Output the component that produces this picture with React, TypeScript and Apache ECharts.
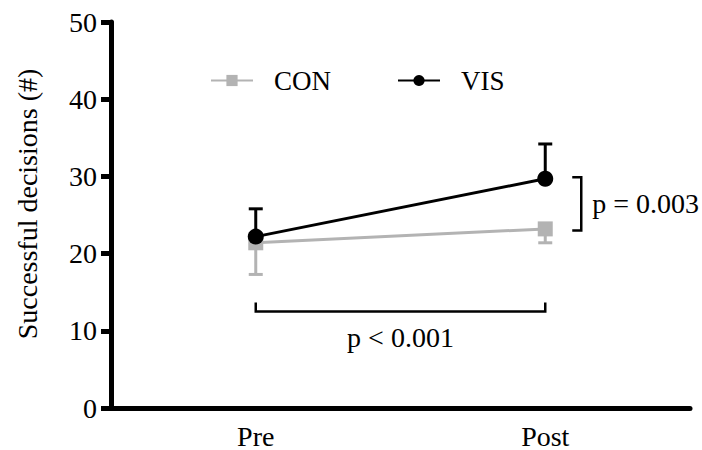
import React, { useEffect, useRef } from "react";
import * as echarts from "echarts";

const categories = ["Pre", "Post"];
const conMean = [21.4, 23.2];
const conLower = [17.3, 21.4];
const visMean = [22.2, 29.7];
const visUpper = [25.8, 34.2];
const yTicks = [0, 10, 20, 30, 40, 50];
// time-effect bracket spanning Pre..Post
const timeBracket = { y: 12.5, label: "p < 0.001" };
// between-group bracket at Post
const groupBracket = { from: 23.0, to: 29.9, label: "p = 0.003" };

const FONT = "Liberation Serif";
const FS = 28;
const GRAY = "#b3b3b3";
const BLACK = "#000000";

export default function App() {
  const ref = useRef<HTMLDivElement>(null);
  useEffect(() => {
    if (!ref.current) return;
    const chart = echarts.init(ref.current, undefined, { renderer: "svg" });

    const errRender = (color: string) => (params: any, api: any) => {
      const x = api.value(0);
      const p0 = api.coord([x, api.value(1)]);
      const p1 = api.coord([x, api.value(2)]);
      const cap = 7;
      const style = { stroke: color, lineWidth: 3 };
      return {
        type: "group",
        children: [
          { type: "line", shape: { x1: p0[0], y1: p0[1], x2: p1[0], y2: p1[1] }, style },
          { type: "line", shape: { x1: p1[0] - cap, y1: p1[1], x2: p1[0] + cap, y2: p1[1] }, style },
        ],
      };
    };

    const annotRender = (params: any, api: any) => {
      const a = api.coord([0, timeBracket.y]);
      const b = api.coord([1, timeBracket.y]);
      const c = api.coord([1, groupBracket.to]);
      const d = api.coord([1, groupBracket.from]);
      const st = { stroke: BLACK, lineWidth: 2.5, fill: "none" };
      const bx = c[0] + 36;
      return {
        type: "group",
        children: [
          {
            type: "polyline",
            shape: { points: [[a[0], a[1] - 9], [a[0], a[1]], [b[0], b[1]], [b[0], b[1] - 9]] },
            style: st,
          },
          {
            type: "text",
            style: {
              text: timeBracket.label,
              x: (a[0] + b[0]) / 2,
              y: a[1] + 26,
              align: "center",
              verticalAlign: "middle",
              fontFamily: FONT,
              fontSize: FS,
              fill: BLACK,
            },
          },
          {
            type: "polyline",
            shape: { points: [[bx - 9, c[1]], [bx, c[1]], [bx, d[1]], [bx - 9, d[1]]] },
            style: st,
          },
          {
            type: "text",
            style: {
              text: groupBracket.label,
              x: bx + 11,
              y: (c[1] + d[1]) / 2,
              align: "left",
              verticalAlign: "middle",
              fontFamily: FONT,
              fontSize: FS,
              fill: BLACK,
            },
          },
        ],
      };
    };

    chart.setOption({
      animation: false,
      backgroundColor: "#ffffff",
      textStyle: { fontFamily: FONT },
      grid: { left: 111, right: 12, top: 22, bottom: 41, containLabel: false },
      legend: {
        left: 205,
        top: 62,
        itemWidth: 42,
        itemHeight: 14,
        itemGap: 66,
        data: ["CON", "VIS"],
        textStyle: { fontFamily: FONT, fontSize: 27, color: BLACK, padding: [0, 0, 0, 16] },
      },
      xAxis: {
        type: "category",
        data: categories,
        boundaryGap: true,
        axisLine: { lineStyle: { color: BLACK, width: 5 } },
        axisTick: { alignWithLabel: true, length: 8, lineStyle: { color: BLACK, width: 5 } },
        axisLabel: { fontFamily: FONT, fontSize: FS, color: BLACK, margin: 14 },
      },
      yAxis: {
        type: "value",
        min: yTicks[0],
        max: yTicks[yTicks.length - 1],
        interval: 10,
        name: "Successful decisions (#)",
        nameLocation: "middle",
        nameGap: 70,
        nameTextStyle: { fontFamily: FONT, fontSize: FS, color: BLACK, padding: [0, 0, 0, 22] },
        splitLine: { show: false },
        axisLine: { show: true, lineStyle: { color: BLACK, width: 5 } },
        axisTick: { show: true, length: 10, lineStyle: { color: BLACK, width: 5 } },
        axisLabel: { fontFamily: FONT, fontSize: FS, color: BLACK, margin: 14 },
      },
      series: [
        {
          type: "custom",
          name: "conErr",
          data: categories.map((_, i) => [i, conMean[i], conLower[i]]),
          encode: { x: 0, y: [1, 2] },
          renderItem: errRender(GRAY),
          z: 1,
        },
        {
          type: "line",
          name: "CON",
          data: conMean,
          symbol: "rect",
          symbolSize: 15,
          itemStyle: { color: GRAY },
          lineStyle: { color: GRAY, width: 3 },
          z: 2,
        },
        {
          type: "custom",
          name: "visErr",
          data: categories.map((_, i) => [i, visMean[i], visUpper[i]]),
          encode: { x: 0, y: [1, 2] },
          renderItem: errRender(BLACK),
          z: 3,
        },
        {
          type: "line",
          name: "VIS",
          data: visMean,
          symbol: "circle",
          symbolSize: 16,
          itemStyle: { color: BLACK },
          lineStyle: { color: BLACK, width: 3 },
          z: 4,
        },
        {
          type: "custom",
          name: "annot",
          data: [[0, 0]],
          encode: { x: 0, y: 1 },
          renderItem: annotRender,
          z: 5,
        },
      ],
    });
    return () => chart.dispose();
  }, []);
  return <div ref={ref} style={{ width: 702, height: 450, position: "absolute", left: 0, top: 0 }} />;
}
